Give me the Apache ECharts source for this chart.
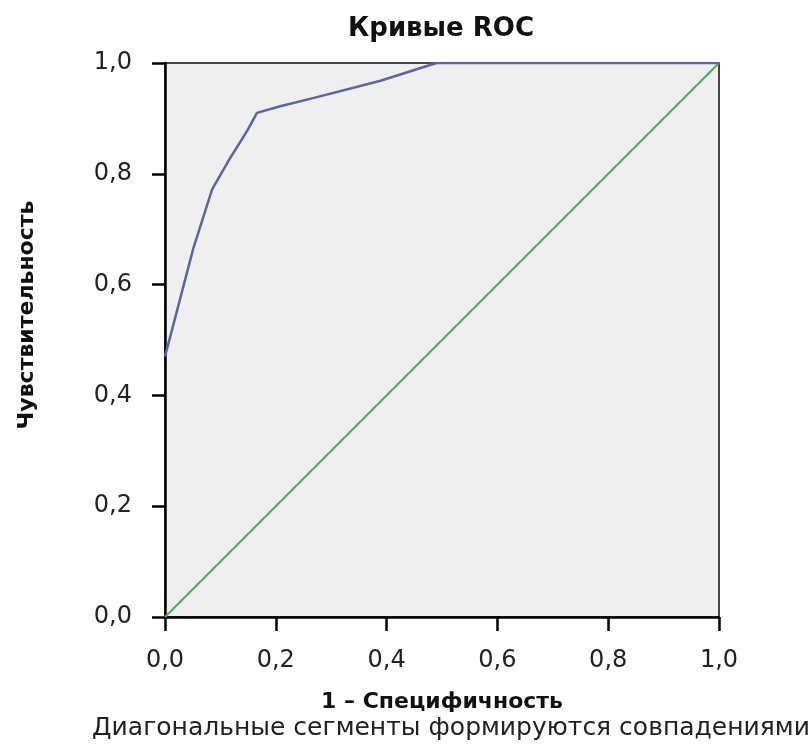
<!DOCTYPE html>
<html><head><meta charset="utf-8">
<script src="https://cdn.jsdelivr.net/npm/echarts@6/dist/echarts.min.js"></script>
<style>html,body{margin:0;padding:0;background:#fff}#c{width:808px;height:751px}</style>
</head><body><div id="c"></div>
<script>
const titleText = 'Кривые ROC';
const xName = '1 – Специфичность';
const yName = 'Чувствительность';
const footnote = 'Диагональные сегменты формируются совпадениями';
const tickValues = [0, 0.2, 0.4, 0.6, 0.8, 1.0];
// ROC curve: 1 - specificity (x) and sensitivity (y)
const rocX = [0.000, 0.051, 0.085, 0.118, 0.148, 0.166, 0.208, 0.269, 0.389, 0.490, 1.000];
const rocY = [0.470, 0.665, 0.772, 0.829, 0.877, 0.910, 0.922, 0.937, 0.968, 1.000, 1.000];
// reference diagonal
const diagX = [0, 1];
const diagY = [0, 1];

const fmt = v => v.toFixed(1).replace('.', ',');
const chart = echarts.init(document.getElementById('c'));
const F = 'DejaVu Sans';
chart.setOption({
  animation: false,
  backgroundColor: '#fff',
  title: [
    {text: titleText, left: 436, top: 11, textAlign: 'center',
     textStyle: {fontFamily: F, fontWeight: 'bold', fontSize: 26, color: '#111'}},
    {text: footnote, left: 446, top: 711, textAlign: 'center',
     textStyle: {fontFamily: F, fontWeight: 'normal', fontSize: 25, color: '#222'}}
  ],
  grid: {left: 165, right: 89, top: 63, bottom: 134, show: true,
         backgroundColor: '#efefef', borderColor: '#111', borderWidth: 1.5},
  xAxis: {
    type: 'value', min: 0, max: 1, interval: 0.2,
    name: xName, nameLocation: 'middle', nameGap: 74,
    nameTextStyle: {fontFamily: F, fontWeight: 'bold', fontSize: 22, color: '#111'},
    axisLine: {show: true, onZero: false, lineStyle: {color: '#000', width: 2.5}},
    axisTick: {show: true, inside: false, length: 14, lineStyle: {color: '#000', width: 2.5}},
    axisLabel: {margin: 32, fontFamily: F, fontSize: 24, color: '#222', formatter: fmt},
    splitLine: {show: false}
  },
  yAxis: {
    type: 'value', min: 0, max: 1, interval: 0.2,
    name: yName, nameLocation: 'middle', nameGap: 127, nameRotate: 90,
    nameTextStyle: {fontFamily: F, fontWeight: 'bold', fontSize: 22, color: '#111', padding: [0, 0, 0, 50]},
    axisLine: {show: true, onZero: false, lineStyle: {color: '#000', width: 2.5}},
    axisTick: {show: true, inside: false, length: 13, lineStyle: {color: '#000', width: 2.5}},
    axisLabel: {margin: 33, fontFamily: F, fontSize: 24, color: '#222', formatter: fmt},
    splitLine: {show: false}
  },
  series: [
    {type: 'line', name: 'diag', data: diagX.map((x, i) => [x, diagY[i]]),
     symbol: 'none', lineStyle: {color: '#55b055', width: 2.2}},
    {type: 'line', name: 'roc', data: rocX.map((x, i) => [x, rocY[i]]),
     symbol: 'none', lineStyle: {color: '#5a64a6', width: 2.5}}
  ]
});
</script></body></html>
